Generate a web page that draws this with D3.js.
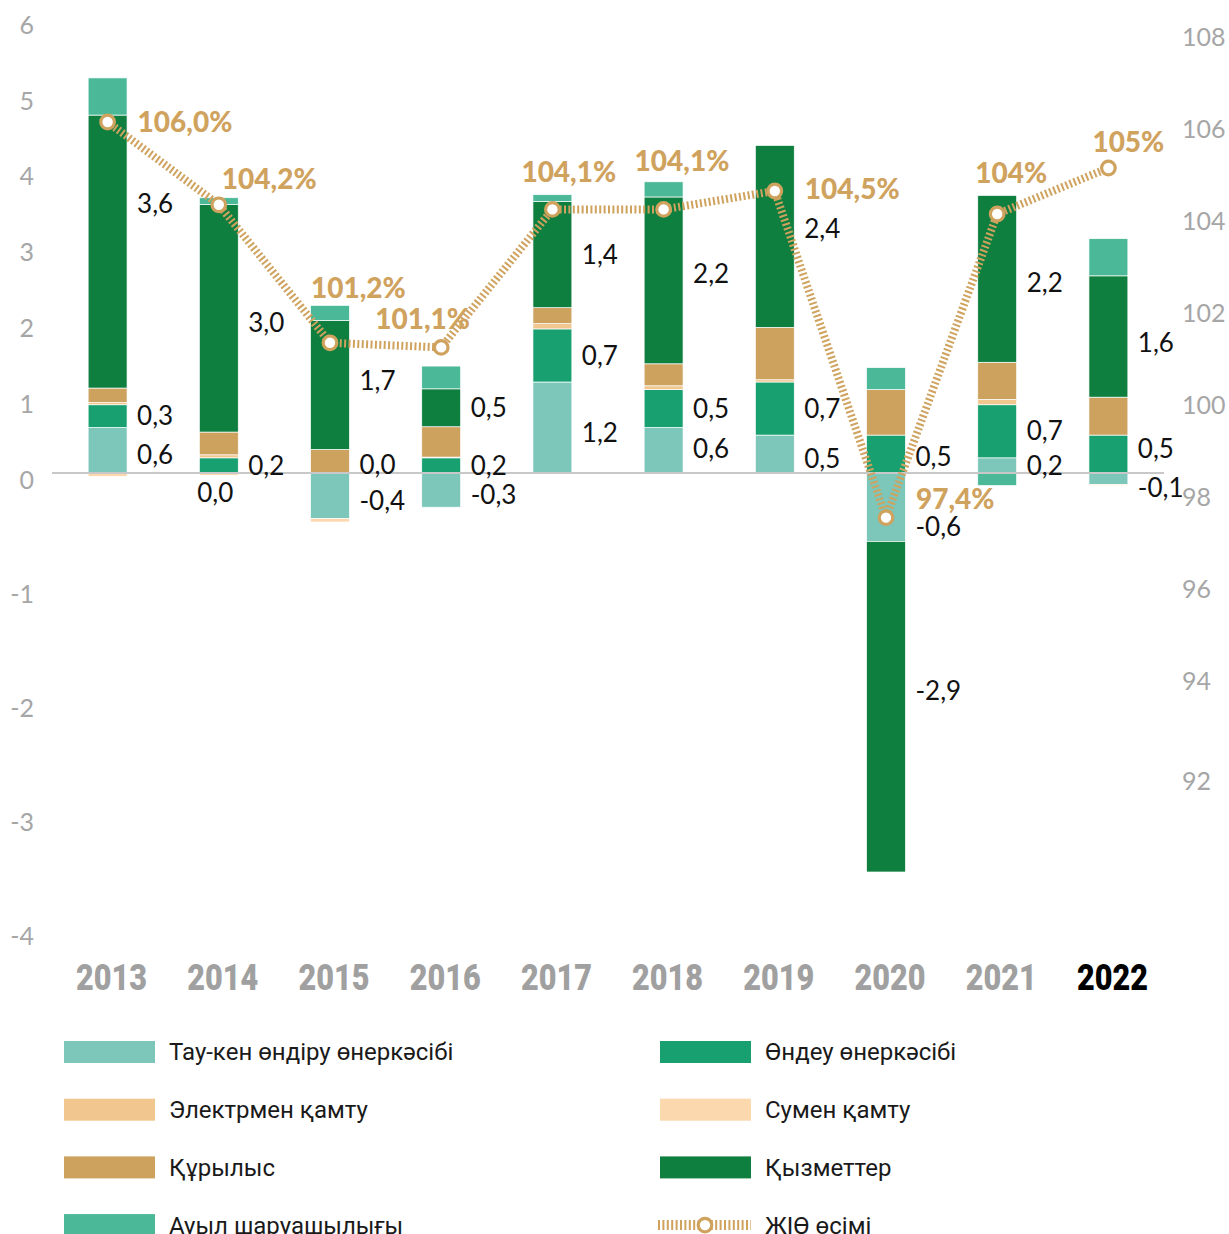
<!DOCTYPE html>
<html>
<head>
<meta charset="utf-8">
<script src="https://cdn.jsdelivr.net/npm/d3@7"></script>
<style>
  body { margin: 0; background: #fff; }
  svg { display: block; }
</style>
</head>
<body>
<div id="chart"></div>
<script>
// data
const years = ["2013", "2014", "2015", "2016", "2017", "2018", "2019", "2020", "2021", "2022"]
const mining = [0.6, 0.0, -0.4, -0.3, 1.2, 0.6, 0.5, -0.6, 0.2, -0.1]
const manufacturing = [0.3, 0.2, 0.0, 0.2, 0.7, 0.5, 0.7, 0.5, 0.7, 0.5]
const electricity = [0.03, 0.04, 0.0, 0.01, 0.07, 0.05, 0.03, 0.0, 0.07, 0.0]
const water = [-0.03, -0.02, -0.03, 0.0, 0.0, 0.0, 0.0, 0.0, 0.0, -0.01]
const construction = [0.19, 0.3, 0.31, 0.4, 0.21, 0.29, 0.69, 0.6, 0.49, 0.5]
const services = [3.6, 3.0, 1.7, 0.5, 1.4, 2.2, 2.4, -2.9, 2.2, 1.6]
const agriculture = [0.49, 0.09, 0.2, 0.3, 0.09, 0.2, 0.0, 0.29, -0.11, 0.49]
const growth = [106.0, 104.2, 101.2, 101.1, 104.1, 104.1, 104.5, 97.4, 104.0, 105.0]
const growthLabels = ["106,0%", "104,2%", "101,2%", "101,1%", "104,1%", "104,1%", "104,5%", "97,4%", "104%", "105%"]
const leftTicks = [6, 5, 4, 3, 2, 1, 0, -1, -2, -3, -4]
const rightTicks = [108, 106, 104, 102, 100, 98, 96, 94, 92]

const series = [
    {key: "mining", name: "Тау-кен өндіру өнеркәсібі", values: mining, color: "#7cc6ba"},
    {key: "manufacturing", name: "Өндеу өнеркәсібі", values: manufacturing, color: "#18a071"},
    {key: "electricity", name: "Электрмен қамту", values: electricity, color: "#f1c68f"},
    {key: "water", name: "Сумен қамту", values: water, color: "#fbd8ae"},
    {key: "construction", name: "Құрылыс", values: construction, color: "#cda15e"},
    {key: "services", name: "Қызметтер", values: services, color: "#0f7f40"},
    {key: "agriculture", name: "Ауыл шаруашылығы", values: agriculture, color: "#4bb898"}
]
const lineName = "ЖІӨ өсімі"
const labelled = ["mining", "manufacturing", "services"]

// hand placed label nudges (layout only)
const seriesShift = {mining: 5}
const valueNudge = {
    "services-2013": [0, -48], "services-2014": [0, 5], "services-2015": [0, -4],
    "services-2018": [0, -6], "services-2019": [0, -8], "services-2020": [0, -16],
    "services-2021": [0, 4], "services-2022": [0, 6],
    "manufacturing-2015": [0, -8], "manufacturing-2020": [0, 3], "manufacturing-2022": [0, -5],
    "mining-2014": [-51, 20], "mining-2018": [0, -1], "mining-2020": [0, 20],
    "mining-2021": [0, 0], "mining-2022": [0, 9]
}
const pctOffset = [[30, 0], [3, -26], [-19, -55], [-66, -28], [-31, -37],
    [-29, -48], [30, -2], [30, -18], [-22, -41], [-16, -26]]

const width = 1229
const height = 1234
const gold = "#cfa25e"
const grey = "#a6a6a6"

const table = years.map((y, i) => {
    const row = {year: y}
    series.forEach(s => row[s.key] = s.values[i])
    return row
})

const x = d3.scaleBand().domain(years).range([52, 1164]).paddingInner(0.65).paddingOuter(0.325)
// the source uses different unit heights above and below zero
const y = d3.scaleLinear().domain([-4, 0, 6]).range([929, 473, 18])
const y2 = d3.scaleLinear().domain([92, 94, 108]).range([774, 674, 30])

const stack = d3.stack().keys(series.map(s => s.key)).offset(d3.stackOffsetDiverging)
const layers = stack(table)
const color = d3.scaleOrdinal(series.map(s => s.key), series.map(s => s.color))

const svg = d3.select("#chart").append("svg")
    .attr("width", width)
    .attr("height", height)
    .attr("viewBox", [0, 0, width, height])

// axes labels
svg.append("g")
    .attr("font-family", "Lato, 'Open Sans', sans-serif")
    .attr("font-size", 25)
    .attr("fill", grey)
    .attr("text-anchor", "end")
    .selectAll("text")
    .data(leftTicks)
    .join("text")
    .attr("x", 34)
    .attr("y", d => y(d) + 7)
    .attr("dy", "0.35em")
    .text(d => d)

svg.append("g")
    .attr("font-family", "Lato, 'Open Sans', sans-serif")
    .attr("font-size", 25)
    .attr("fill", grey)
    .selectAll("text")
    .data(rightTicks)
    .join("text")
    .attr("x", 1182)
    .attr("y", d => y2(d) + 7)
    .attr("dy", "0.35em")
    .text(d => d)

// bars
svg.append("g")
    .selectAll("g")
    .data(layers)
    .join("g")
    .attr("fill", d => color(d.key))
    .selectAll("rect")
    .data(d => d)
    .join("rect")
    .attr("x", d => x(d.data.year))
    .attr("width", x.bandwidth())
    .attr("y", d => y(Math.max(d[0], d[1])))
    .attr("height", d => Math.abs(y(d[0]) - y(d[1])))
    .attr("stroke", "#fff")
    .attr("stroke-width", 0.7)

svg.append("line")
    .attr("x1", 52).attr("x2", 1164)
    .attr("y1", y(0)).attr("y2", y(0))
    .attr("stroke", "#c8c8c8")
    .attr("stroke-width", 2)

// value labels
const fmt = v => d3.format(".1f")(v).replace(".", ",").replace("−", "-")
const labelData = []
layers.filter(l => labelled.includes(l.key)).forEach(l => {
    l.forEach(d => {
        const id = l.key + "-" + d.data.year
        const nudge = valueNudge[id] || [0, seriesShift[l.key] || 0]
        labelData.push({
            x: x(d.data.year) + x.bandwidth() + 10 + nudge[0],
            y: (y(d[0]) + y(d[1])) / 2 + nudge[1],
            text: fmt(d.data[l.key])
        })
    })
})

svg.append("g")
    .attr("font-family", "Lato, 'Open Sans', sans-serif")
    .attr("font-size", 26)
    .attr("fill", "#111")
    .selectAll("text")
    .data(labelData)
    .join("text")
    .attr("x", d => d.x)
    .attr("y", d => d.y)
    .attr("dy", "0.35em")
    .text(d => d.text)

// growth line
const cx = i => x(years[i]) + x.bandwidth() / 2
const line = d3.line().x((d, i) => cx(i)).y(d => y2(d))

svg.append("path")
    .datum(growth)
    .attr("fill", "none")
    .attr("stroke", gold)
    .attr("stroke-width", 8)
    .attr("stroke-dasharray", "2,2.4")
    .attr("d", line)

svg.append("g")
    .selectAll("circle")
    .data(growth)
    .join("circle")
    .attr("cx", (d, i) => cx(i))
    .attr("cy", d => y2(d))
    .attr("r", 6.8)
    .attr("fill", "#fff")
    .attr("stroke", gold)
    .attr("stroke-width", 3.2)

svg.append("g")
    .attr("font-family", "Lato, 'Open Sans', sans-serif")
    .attr("font-size", 28)
    .attr("font-weight", 900)
    .attr("fill", gold)
    .selectAll("text")
    .data(growth)
    .join("text")
    .attr("x", (d, i) => cx(i) + pctOffset[i][0])
    .attr("y", (d, i) => y2(d) + pctOffset[i][1])
    .attr("dy", "0.35em")
    .text((d, i) => growthLabels[i])

// year labels
svg.append("g")
    .attr("font-family", "Roboto, sans-serif")
    .attr("font-size", 37)
    .attr("font-weight", 900)
    .attr("text-anchor", "middle")
    .selectAll("text")
    .data(years)
    .join("text")
    .attr("x", d => x(d) + x.bandwidth() / 2 + 4)
    .attr("y", 990)
    .attr("fill", (d, i) => i === years.length - 1 ? "#000" : "#a0a0a0")
    .attr("textLength", 71)
    .attr("lengthAdjust", "spacingAndGlyphs")
    .text(d => d)

// legend
const legendItems = [
    series[0], series[1], series[2], series[3], series[4], series[5], series[6], {name: lineName, line: true}
]
const legend = svg.append("g")
    .attr("font-family", "Roboto, sans-serif")
    .attr("font-size", 24)
    .attr("fill", "#1a1a1a")
    .selectAll("g")
    .data(legendItems)
    .join("g")
    .attr("transform", (d, i) => `translate(${i % 2 ? 660 : 64},${1052 + Math.floor(i / 2) * 57.7})`)

legend.filter(d => !d.line).append("rect")
    .attr("y", -11)
    .attr("width", 91)
    .attr("height", 22)
    .attr("fill", d => d.color)

const lineItem = legend.filter(d => d.line)
lineItem.append("line")
    .attr("x1", -2).attr("x2", 91)
    .attr("stroke", gold)
    .attr("stroke-width", 10)
    .attr("stroke-dasharray", "2,2.4")
lineItem.append("circle")
    .attr("cx", 45)
    .attr("r", 6.8)
    .attr("fill", "#fff")
    .attr("stroke", gold)
    .attr("stroke-width", 3.2)

legend.append("text")
    .attr("x", 105)
    .attr("dy", "0.35em")
    .text(d => d.name)
</script>
</body>
</html>
